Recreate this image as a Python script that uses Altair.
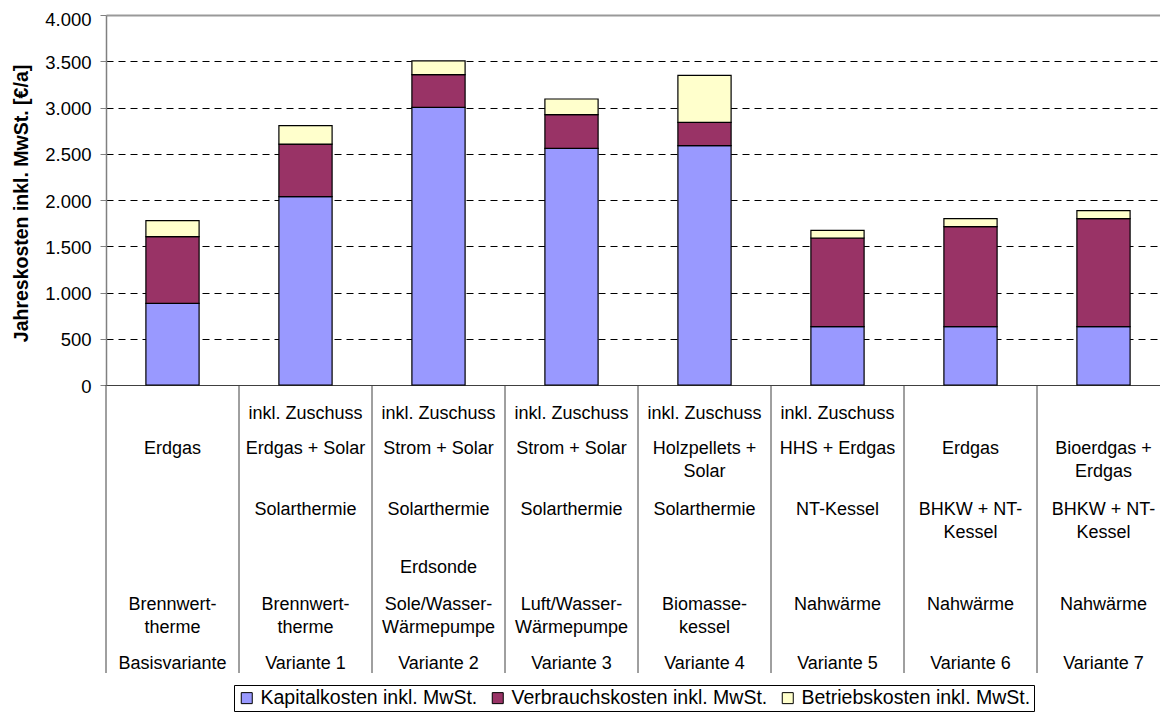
import altair as alt
import pandas as pd

# ---------------- data ----------------
categories = ["Basisvariante", "Variante 1", "Variante 2", "Variante 3",
              "Variante 4", "Variante 5", "Variante 6", "Variante 7"]
kapital = [883, 2036, 3002, 2559, 2587, 631, 631, 631]
verbrauch = [721, 569, 353, 363, 253, 958, 1081, 1167]
betrieb = [173, 198, 148, 170, 508, 83, 86, 87]
series = ["Kapitalkosten inkl. MwSt.", "Verbrauchskosten inkl. MwSt.", "Betriebskosten inkl. MwSt."]
colors = ["#9999FF", "#993366", "#FFFFCC"]

zuschuss = ["", "inkl. Zuschuss", "inkl. Zuschuss", "inkl. Zuschuss",
            "inkl. Zuschuss", "inkl. Zuschuss", "", ""]
energie = ["Erdgas", "Erdgas + Solar", "Strom + Solar", "Strom + Solar",
           "Holzpellets +\nSolar", "HHS + Erdgas", "Erdgas", "Bioerdgas +\nErdgas"]
technik = ["", "Solarthermie", "Solarthermie", "Solarthermie", "Solarthermie",
           "NT-Kessel", "BHKW + NT-\nKessel", "BHKW + NT-\nKessel"]
quelle = ["", "", "Erdsonde", "", "", "", "", ""]
system = ["Brennwert-\ntherme", "Brennwert-\ntherme", "Sole/Wasser-\nWärmepumpe",
          "Luft/Wasser-\nWärmepumpe", "Biomasse-\nkessel", "Nahwärme", "Nahwärme", "Nahwärme"]
table_rows = [zuschuss, energie, technik, quelle, system, categories]

# layout (pixel offsets of table rows below the plot top)
row_tops = [390, 425, 486, 544, 581, 640]

bar_rows = []
for i, c in enumerate(categories):
    for k, (s, vals) in enumerate(zip(series, [kapital, verbrauch, betrieb])):
        bar_rows.append({"cat": c, "series": s, "value": vals[i], "idx": k})
bar_df = pd.DataFrame(bar_rows)

xscale = alt.Scale(domain=categories, range=[0, 1064], paddingInner=0, paddingOuter=0)

bars = alt.Chart(bar_df).mark_bar(
    width=alt.RelativeBandSize(0.4), stroke="black", strokeWidth=1.2
).encode(
    x=alt.X("cat:N", scale=xscale, title=None),
    y=alt.Y(
        "value:Q", stack="zero",
        scale=alt.Scale(domain=[0, 4000], nice=False),
        axis=alt.Axis(
            values=list(range(0, 4001, 500)),
            labelExpr="replace(format(datum.value, ','), ',', '.')",
            title="Jahreskosten inkl. MwSt. [€/a]",
            titleFontSize=19.5, titleFontWeight="bold", titleColor="black",
            titleAngle=270, titleX=-85, titleY=188, titleAlign="center",
            titleBaseline="middle",
            labelFontSize=18.5, labelColor="black", labelPadding=9,
            labelBaseline="alphabetic",
            labelOffset={"condition": {"test": "datum.value == 4000", "value": 10}, "value": 7},
            tickSize=6, tickColor="#808080", domainColor="#808080", domainWidth=1.5,
            grid=True,
            gridColor={"condition": {"test": "datum.value == 4000", "value": "#999999"}, "value": "black"},
            gridDash={"condition": {"test": "datum.value == 4000", "value": [1, 0]}, "value": [7, 5]},
            gridWidth={"condition": {"test": "datum.value == 4000", "value": 2}, "value": 1},
        ),
    ),
    color=alt.Color(
        "series:N",
        scale=alt.Scale(domain=series, range=colors),
        legend=alt.Legend(
            orient="none", legendX=128, legendY=670, direction="horizontal", columns=3,
            title=None, strokeColor="black", padding=3, symbolType="square",
            symbolSize=121, symbolStrokeColor="black", symbolStrokeWidth=1,
            labelFontSize=19.5, labelColor="black", labelOffset=4, columnPadding=10,
            labelLimit=500,
        ),
    ),
    order=alt.Order("idx:Q", sort="ascending"),
)

dividers = alt.Chart(pd.DataFrame({"cat": categories})).mark_rule(
    color="#404040", strokeWidth=1
).encode(
    x=alt.X("cat:N", scale=xscale, bandPosition=0, title=None),
    y=alt.value(370),
    y2=alt.value(658),
)

text_layers = []
for row, top in zip(table_rows, row_tops):
    df = pd.DataFrame({"cat": categories, "text": row})
    text_layers.append(
        alt.Chart(df).mark_text(
            fontSize=18, lineBreak="\n", lineHeight=22.5, baseline="top",
            align="center", color="black"
        ).encode(
            x=alt.X("cat:N", scale=xscale, title=None),
            y=alt.value(top),
            text="text:N",
        )
    )

chart = alt.layer(bars, dividers, *text_layers).properties(
    width=1054, height=370,
    autosize=alt.AutoSizeParams(type="none"),
    padding={"left": 98, "top": 7, "right": 0, "bottom": 327},
    background="white",
).configure(font="Liberation Sans").configure_view(stroke=None).configure_axisX(
    labels=False, ticks=False, domain=True, domainColor="#404040", domainWidth=1.2,
    grid=False, title=None
)

chart.save("out.html", embed_options={"renderer": "svg", "actions": False})
